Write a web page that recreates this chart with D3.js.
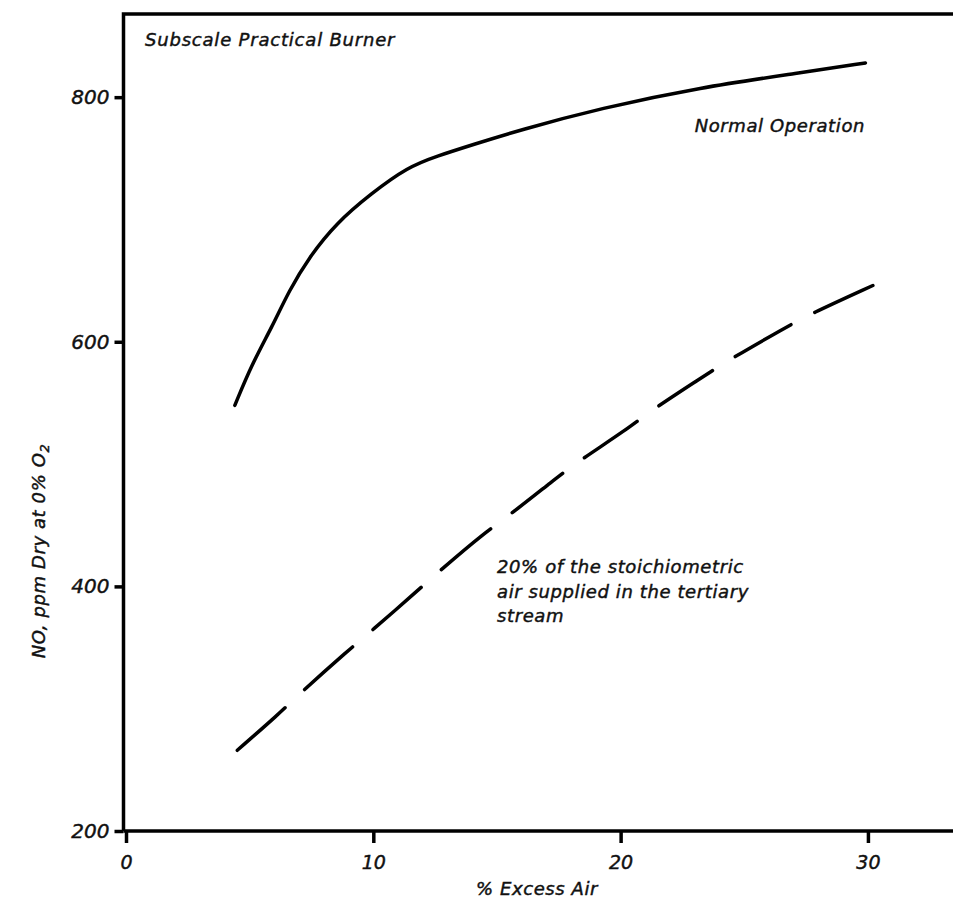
<!DOCTYPE html>
<html>
<head>
<meta charset="utf-8">
<script src="https://cdn.jsdelivr.net/npm/d3@7"></script>
<style>
  body { margin: 0; background: #fff; }
  svg text { font-family: "DejaVu Sans", sans-serif; font-style: italic; fill: #111; stroke: #111; stroke-width: 0.45px; }
</style>
</head>
<body>
<svg id="chart" width="953" height="905"></svg>
<script>
// values: % excess air vs NO ppm
const normalX = [4.4, 5.1, 5.9, 6.6, 7.4, 8.5, 9.9, 11.4, 12.6, 14.0, 15.9, 19.2, 23.2, 27.3, 29.9];
const normalY = [548, 582, 612, 642, 669, 697, 721, 743, 752, 761, 773, 791, 808, 820, 828];
const tertiaryX = [4.5, 6.2, 6.9, 9.0, 9.9, 11.7, 12.7, 14.5, 15.5, 17.3, 18.2, 20.3, 21.1, 23.3, 24.2, 26.7, 27.6, 30.2];
const tertiaryY = [266, 296, 310, 348, 363, 395, 413, 444, 458, 487, 501, 529, 542, 571, 583, 612, 622, 646];
const xTicks = [0, 10, 20, 30];
const yTicks = [200, 400, 600, 800];

const svg = d3.select('#chart');

const xScale = d3.scaleLinear().domain([0, 33.44]).range([126, 953]);
const yScale = d3.scaleLinear().domain([200, 868]).range([831, 14]);

const frameLeft = xScale(0) - 2.5;
const frameBottom = yScale(200);
const frameTop = yScale(868);

// frame: left axis, top border, bottom axis
svg.append('path')
  .attr('d', `M${frameLeft},${frameBottom} L${frameLeft},${frameTop} L953,${frameTop}`)
  .attr('fill', 'none')
  .attr('stroke', '#000')
  .attr('stroke-width', 3.5);
svg.append('line')
  .attr('x1', frameLeft).attr('x2', 953)
  .attr('y1', frameBottom).attr('y2', frameBottom)
  .attr('stroke', '#000')
  .attr('stroke-width', 3.5);

// X-axis
const xAxis = svg.append('g')
  .attr('transform', `translate(0,${frameBottom})`)
  .call(d3.axisBottom(xScale).tickValues(xTicks).tickSize(12).tickPadding(13));
xAxis.select('.domain').remove();
xAxis.selectAll('line').attr('stroke', '#000').attr('stroke-width', 3.5);
xAxis.selectAll('text').attr('font-size', 19).attr('font-family', null);

// Y-axis
const yAxis = svg.append('g')
  .attr('transform', `translate(${frameLeft},0)`)
  .call(d3.axisLeft(yScale).tickValues(yTicks).tickSize(9).tickPadding(5));
yAxis.select('.domain').remove();
yAxis.selectAll('line').attr('stroke', '#000').attr('stroke-width', 3.5);
yAxis.selectAll('text').attr('font-size', 20).attr('font-family', null);

// curves
const line = d3.line()
  .x(d => xScale(d[0]))
  .y(d => yScale(d[1]))
  .curve(d3.curveBasis);

svg.append('path')
  .datum(d3.zip(normalX, normalY))
  .attr('d', line)
  .attr('fill', 'none')
  .attr('stroke', '#000')
  .attr('stroke-width', 3.5)
  .attr('stroke-linecap', 'round');

const dashed = svg.append('path')
  .datum(d3.zip(tertiaryX, tertiaryY))
  .attr('d', line)
  .attr('fill', 'none')
  .attr('stroke', '#000')
  .attr('stroke-width', 3.5)
  .attr('stroke-linecap', 'round');

// fit the dash pattern so the line starts and ends with a dash
const len = dashed.node().getTotalLength();
const gap = 27;
const n = Math.round((len + gap) / 90);
const dash = (len + gap) / n - gap;
dashed.attr('stroke-dasharray', `${dash} ${gap}`);

// labels
svg.append('text')
  .attr('x', 145).attr('y', 46)
  .attr('font-size', 18)
  .attr('letter-spacing', 0.8)
  .text('Subscale Practical Burner');

svg.append('text')
  .attr('x', 865).attr('y', 132)
  .attr('text-anchor', 'end')
  .attr('font-size', 18)
  .attr('letter-spacing', 0.6)
  .text('Normal Operation');

const note = svg.append('text')
  .attr('font-size', 18)
  .attr('letter-spacing', 0.6);
['20% of the stoichiometric', 'air supplied in the tertiary', 'stream'].forEach((t, i) => {
  note.append('tspan').attr('x', 497).attr('y', 573 + i * 24.5).text(t);
});

svg.append('text')
  .attr('x', 537).attr('y', 895)
  .attr('text-anchor', 'middle')
  .attr('font-size', 18)
  .attr('letter-spacing', 0.6)
  .text('% Excess Air');

const yLabel = svg.append('text')
  .attr('transform', 'translate(45,551) rotate(-90)')
  .attr('text-anchor', 'middle')
  .attr('font-size', 18)
  .attr('letter-spacing', 0.6);
yLabel.append('tspan').text('NO, ppm Dry at 0% O');
yLabel.append('tspan').attr('font-size', 13).attr('dy', 4).text('2');
</script>
</body>
</html>
